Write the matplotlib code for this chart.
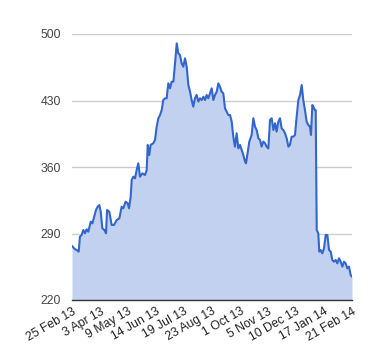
import numpy as np
import matplotlib
matplotlib.use("Agg")
import matplotlib.pyplot as plt

# trading-day index (0 = 25 Feb 13) and closing values
days = [0.0, 2.4, 4.2, 6.0, 7.1, 8.6, 10.1, 11.6, 13.1, 14.6, 16.7, 18.2, 19.0,
        21.4, 22.9, 24.4, 25.6, 27.1, 28.9, 30.4, 31.3, 33.3, 35.4, 37.5, 39.9,
        42.3, 44.3, 45.8, 47.9, 49.7, 50.9, 52.4, 53.3, 54.8, 56.3, 57.7, 59.2,
        60.7, 62.8, 65.2, 66.7, 67.6, 69.0, 70.2, 72.6, 74.1, 75.6, 77.1, 78.6,
        80.1, 81.5, 83.0, 84.5, 86.0, 87.5, 89.0, 90.5, 92.0, 93.5, 94.9, 96.4,
        97.9, 99.4, 100.9, 102.4, 103.9, 105.4, 106.8, 108.3, 109.8, 111.3,
        112.8, 114.3, 115.8, 117.3, 118.8, 120.2, 121.7, 123.2, 124.7, 126.2,
        127.7, 129.2, 130.7, 132.1, 133.6, 135.1, 136.6, 138.1, 139.6, 141.1,
        142.6, 144.0, 145.5, 147.0, 148.5, 150.0, 151.5, 153.0, 154.5, 155.4,
        156.5, 158.3, 160.4, 161.9, 163.4, 164.9, 166.4, 167.9, 169.3, 170.8,
        172.3, 173.8, 175.3, 176.8, 178.3, 179.8, 181.3, 182.7, 184.2, 185.7,
        187.2, 188.7, 190.2, 191.7, 193.2, 194.6, 196.1, 197.6, 199.1, 200.6,
        202.1, 203.6, 205.1, 206.5, 208.0, 209.5, 211.0, 212.5, 213.4, 214.6,
        215.5, 216.7, 217.6, 218.5, 219.9, 220.8, 222.0, 223.5, 225.0, 226.5,
        228.0, 229.5, 231.0, 232.4, 233.9, 235.4, 236.9, 238.4, 239.9, 241.4,
        242.9, 244.3, 245.8, 247.3, 248.8, 250.0]
prices = [276.8, 273.7, 272.6, 270.9, 286.7, 288.4, 293.7, 290.2, 294.4, 291.9,
          302.4, 300.7, 304.2, 314.7, 318.2, 320.0, 313.0, 295.4, 293.7, 290.2,
          314.7, 313.0, 299.0, 299.0, 304.2, 306.0, 318.2, 316.5, 323.5, 321.8,
          316.5, 328.8, 346.3, 349.8, 348.1, 356.8, 363.9, 349.8, 353.3, 351.6,
          356.8, 383.2, 372.6, 383.2, 385.0, 388.4, 402.4, 411.3, 414.7, 420.0,
          430.5, 432.3, 432.3, 448.1, 442.8, 449.8, 449.8, 469.1, 490.2, 479.7,
          477.9, 469.1, 465.6, 474.4, 465.6, 446.3, 439.3, 430.5, 423.5, 432.3,
          435.8, 428.8, 432.3, 430.5, 434.0, 430.5, 435.8, 432.3, 437.5, 442.8,
          430.5, 435.8, 439.3, 448.1, 444.5, 439.3, 437.5, 421.8, 418.2, 414.7,
          414.7, 407.7, 391.9, 381.4, 395.5, 379.6, 383.2, 377.9, 372.6, 365.6,
          363.9, 372.6, 386.7, 393.7, 411.3, 402.4, 398.9, 390.2, 388.4, 381.4,
          386.7, 385.0, 381.4, 379.6, 409.5, 411.3, 398.9, 406.0, 397.2, 407.7,
          411.3, 400.7, 398.9, 395.5, 390.2, 381.4, 383.2, 391.9, 391.9, 393.7,
          413.0, 430.5, 435.8, 446.3, 430.5, 420.0, 407.7, 404.2, 402.4, 393.7,
          425.3, 423.5, 420.0, 420.0, 293.7, 290.2, 270.9, 272.6, 269.1, 274.4,
          288.4, 288.4, 272.6, 270.9, 262.1, 260.3, 262.1, 258.6, 263.9, 260.3,
          255.1, 260.3, 258.6, 253.3, 255.1, 246.3, 244.6]

tick_days = [0, 25, 50, 75, 100, 125, 150, 175, 200, 225, 250]
tick_labels = ["25 Feb 13", "3 Apr 13", "9 May 13", "14 Jun 13", "19 Jul 13",
               "23 Aug 13", "1 Oct 13", "5 Nov 13", "10 Dec 13", "17 Jan 14",
               "21 Feb 14"]
y_ticks = [220, 290, 360, 430, 500]

plt.rcParams['font.family'] = ['Liberation Sans', 'DejaVu Sans']

fig = plt.figure(figsize=(3.8, 3.6), dpi=100)
ax = fig.add_axes([72 / 380, 1 - 300 / 360, 280 / 380, 266 / 360])

ax.fill_between(days, prices, 220, color='#c2d1f0', lw=0)
ax.plot(days, prices, color='#3366cc', lw=1.5, solid_joinstyle='round')

ax.set_xlim(0, 250)
ax.set_ylim(220, 500)
ax.set_yticks(y_ticks)
ax.set_yticklabels([str(v) for v in y_ticks])
ax.set_xticks(tick_days)
ax.set_xticklabels(tick_labels, rotation=30, ha='right', rotation_mode='anchor')

ax.grid(True, axis='y', color='#cccccc', lw=1)
ax.set_axisbelow(True)
for s in ['top', 'right', 'left']:
    ax.spines[s].set_visible(False)
ax.spines['bottom'].set_color('#333333')
ax.spines['bottom'].set_linewidth(1)
ax.spines['bottom'].set_zorder(5)

ax.tick_params(axis='y', length=0, pad=8, labelsize=8.8, labelcolor='#444444')
ax.tick_params(axis='x', length=0, pad=4, labelsize=8.8, labelcolor='#222222')

fig.savefig("out.png", dpi=100, facecolor='white')
